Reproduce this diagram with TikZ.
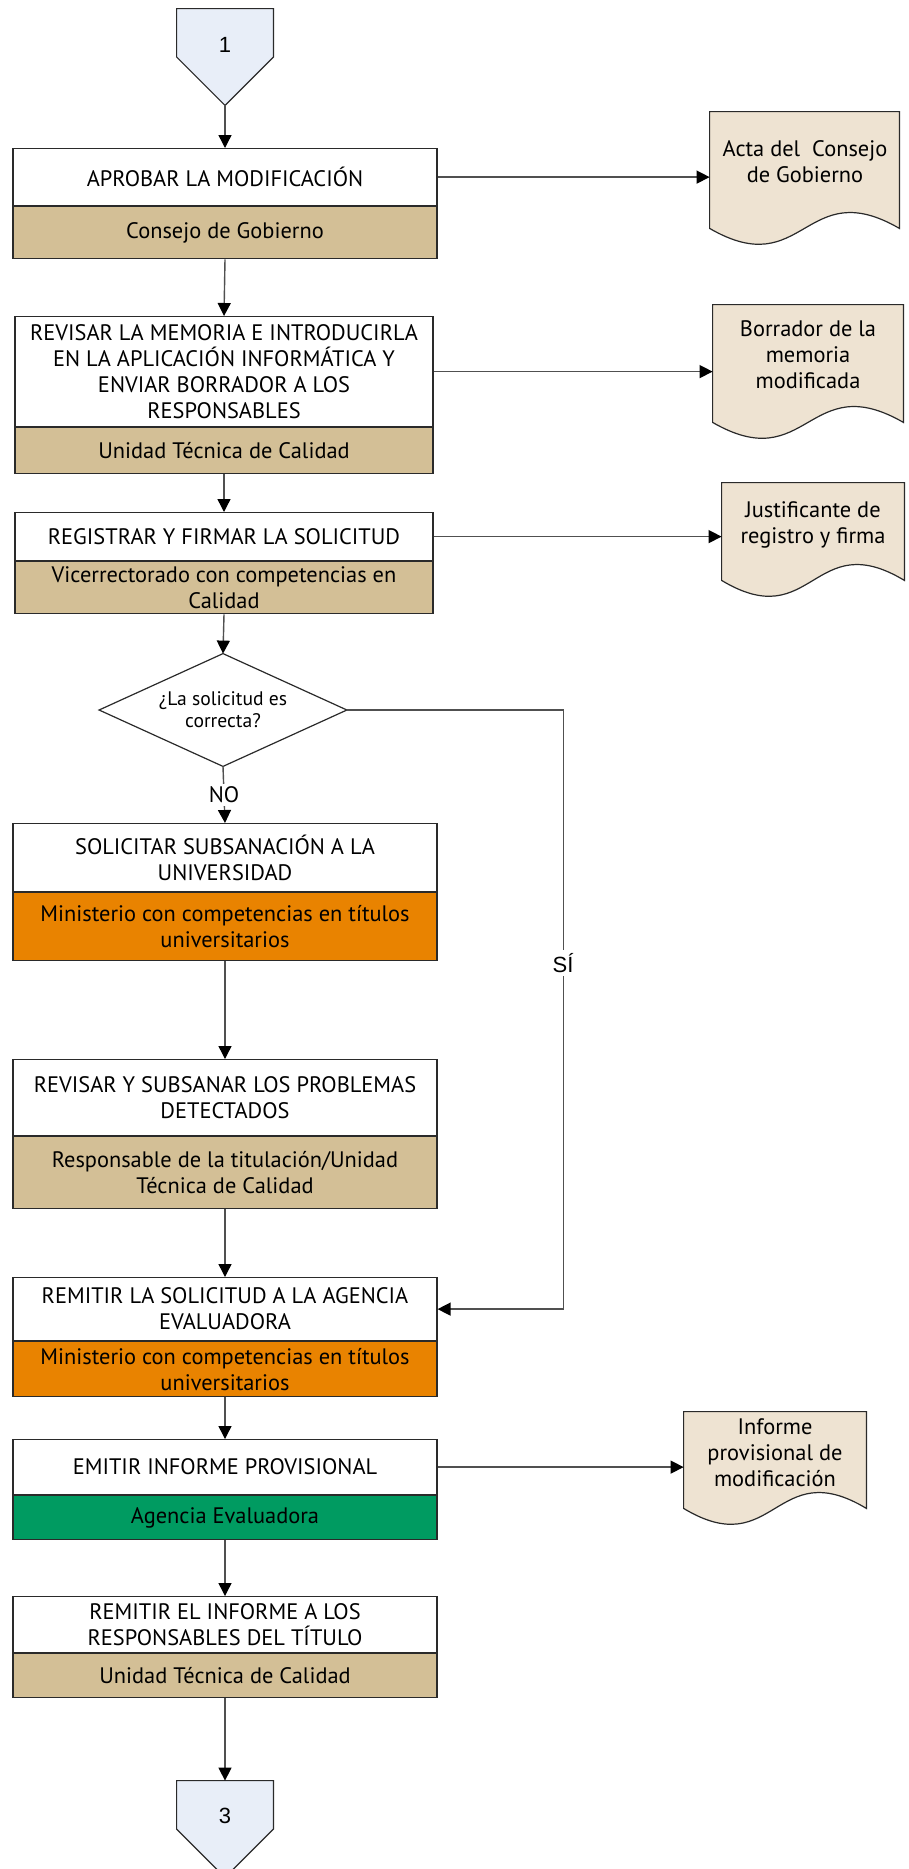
\documentclass[tikz,border=0pt]{standalone}
\usepackage{fontspec}
\setmainfont{PT Sans}
\newfontfamily\arialf{Liberation Sans}
\usetikzlibrary{arrows.meta,calc}
\definecolor{tanc}{HTML}{D3BF96}
\definecolor{orangec}{HTML}{E98300}
\definecolor{greenc}{HTML}{009B61}
\definecolor{docfill}{HTML}{EEE3D2}
\definecolor{pentfill}{HTML}{E8EEF8}
\definecolor{linegray}{HTML}{505050}
\definecolor{boxline}{HTML}{2A2A2A}
\newcommand\pxu{0.5pt}
\newcommand\docshape[1]{%
  \filldraw[docstyle] (#1.north west) -- (#1.north east) -- (#1.south east)
    .. controls ($(#1.south)+(0,-55)$) and ($(#1.south)+(0,55)$) .. (#1.south west) -- cycle;}
\begin{document}
\begin{tikzpicture}[x=0.5pt,y=-0.5pt,
  every node/.style={font=\fontsize{11.2pt}{13pt}\selectfont, align=center, text=black},
  boxtop/.style={draw=boxline, fill=white, line width=0.6pt, anchor=north, inner sep=0pt},
  boxbot/.style={draw=boxline, line width=0.6pt, anchor=north, inner sep=0pt},
  docbox/.style={inner sep=0pt},
  docstyle/.style={draw=boxline, fill=docfill, line width=0.6pt},
  pentstyle/.style={draw=boxline, fill=pentfill, line width=0.6pt},
  conn/.style={draw=linegray, line width=0.7pt, -{Triangle[length=6.5pt,width=6.5pt,color=black]}},
  arialtext/.style={font=\arialf\fontsize{11pt}{13pt}\selectfont}
]
\useasboundingbox (0,0) rectangle (909,1869);
\fill[white] (0,0) rectangle (909,1869);

% off-page connector 1
\node[inner sep=0pt, minimum width=96*\pxu, minimum height=96*\pxu] (p1) at (225,57) {};
\filldraw[pentstyle] (p1.north west) -- (p1.north east) -- (p1.east) -- (p1.south) -- (p1.west) -- cycle;
\node[arialtext] (p1t) at (225,45) {1};

% box 1
\node[boxtop, minimum width=424*\pxu, minimum height=57*\pxu] (b1t) at (225,148) {APROBAR LA MODIFICACIÓN};
\node[boxbot, fill=tanc, minimum width=424*\pxu, minimum height=52*\pxu] (b1b) at (b1t.south) {Consejo de Gobierno};

% box 2
\node[boxtop, minimum width=418*\pxu, minimum height=110*\pxu] (b2t) at (224,316) {REVISAR LA MEMORIA E INTRODUCIRLA\\EN LA APLICACIÓN INFORMÁTICA Y\\ENVIAR BORRADOR A LOS\\RESPONSABLES};
\node[boxbot, fill=tanc, minimum width=418*\pxu, minimum height=46*\pxu] (b2b) at (b2t.south) {Unidad Técnica de Calidad};

% box 3
\node[boxtop, minimum width=418*\pxu, minimum height=48*\pxu] (b3t) at (224,512) {REGISTRAR Y FIRMAR LA SOLICITUD};
\node[boxbot, fill=tanc, minimum width=418*\pxu, minimum height=52*\pxu] (b3b) at (b3t.south) {Vicerrectorado con competencias en\\Calidad};

% decision
\node[inner sep=0pt, minimum width=247*\pxu, minimum height=112*\pxu, font=\fontsize{9.8pt}{11pt}\selectfont] (dia) at (223,710) {¿La solicitud es\\correcta?};
\draw[draw=boxline, line width=0.6pt] (dia.north) -- (dia.east) -- (dia.south) -- (dia.west) -- cycle;

% box 4
\node[boxtop, minimum width=424*\pxu, minimum height=68*\pxu] (b4t) at (225,823) {SOLICITAR SUBSANACIÓN A LA\\UNIVERSIDAD};
\node[boxbot, fill=orangec, minimum width=424*\pxu, minimum height=68*\pxu] (b4b) at (b4t.south) {Ministerio con competencias en títulos\\universitarios};

% box 5
\node[boxtop, minimum width=424*\pxu, minimum height=76*\pxu] (b5t) at (225,1059) {REVISAR Y SUBSANAR LOS PROBLEMAS\\DETECTADOS};
\node[boxbot, fill=tanc, minimum width=424*\pxu, minimum height=72*\pxu] (b5b) at (b5t.south) {Responsable de la titulación/Unidad\\Técnica de Calidad};

% box 6
\node[boxtop, minimum width=424*\pxu, minimum height=63*\pxu] (b6t) at (225,1277) {REMITIR LA SOLICITUD A LA AGENCIA\\EVALUADORA};
\node[boxbot, fill=orangec, minimum width=424*\pxu, minimum height=55*\pxu] (b6b) at (b6t.south) {Ministerio con competencias en títulos\\universitarios};

% box 7
\node[boxtop, minimum width=424*\pxu, minimum height=55*\pxu] (b7t) at (225,1439) {EMITIR INFORME PROVISIONAL};
\node[boxbot, fill=greenc, minimum width=424*\pxu, minimum height=44*\pxu] (b7b) at (b7t.south) {Agencia Evaluadora};

% box 8
\node[boxtop, minimum width=424*\pxu, minimum height=56*\pxu] (b8t) at (225,1596) {REMITIR EL INFORME A LOS\\RESPONSABLES DEL TÍTULO};
\node[boxbot, fill=tanc, minimum width=424*\pxu, minimum height=44*\pxu] (b8b) at (b8t.south) {Unidad Técnica de Calidad};

% off-page connector 3
\node[inner sep=0pt, minimum width=96*\pxu, minimum height=96*\pxu] (p3) at (225,1829) {};
\filldraw[pentstyle] (p3.north west) -- (p3.north east) -- (p3.east) -- (p3.south) -- (p3.west) -- cycle;
\node[arialtext] (p3t) at (225,1816) {3};

% documents
\node[docbox, minimum width=189*\pxu, minimum height=116*\pxu] (d1) at (804.5,170) {};
\docshape{d1}
\node (d1t) at (805,161.5) {Acta del\ \ Consejo\\de Gobierno};

\node[docbox, minimum width=190*\pxu, minimum height=117*\pxu] (d2) at (808,363.5) {};
\docshape{d2}
\node (d2t) at (808,355) {Borrador de la\\memoria\\modificada};

\node[docbox, minimum width=182*\pxu, minimum height=97*\pxu] (d3) at (813,531.5) {};
\docshape{d3}
\node (d3t) at (813,525) {Justificante de\\registro y firma};

\node[docbox, minimum width=182*\pxu, minimum height=96*\pxu] (d4) at (775,1460) {};
\docshape{d4}
\node (d4t) at (775,1452.5) {Informe\\provisional de\\modificación};

% vertical flow
\draw[conn] (p1.south) -- (b1t.north);
\draw[conn] (b1b.south) -- (b2t.north);
\draw[conn] (b2b.south) -- (b3t.north);
\draw[conn] (b3b.south) -- (dia.north);
\draw[conn] (dia.south) -- node[fill=white, inner sep=1.5pt] (lblno) {NO} (b4t.north);
\draw[conn] (b4b.south) -- (b5t.north);
\draw[conn] (b5b.south) -- (b6t.north);
\draw[conn] (b6b.south) -- (b7t.north);
\draw[conn] (b7b.south) -- (b8t.north);
\draw[conn] (b8b.south) -- (p3.north);

% yes branch
\coordinate (sicorner) at ($(b6t.east)+(126,0)$);
\draw[conn] (dia.east) -| (sicorner) -- (b6t.east);
\node[fill=white, inner sep=1.5pt, arialtext] (lblsi) at (563,963) {SÍ};

% outputs
\draw[conn] (b1t.east) -- (b1t.east -| d1.west);
\draw[conn] (b2t.east) -- (b2t.east -| d2.west);
\draw[conn] (b3t.east) -- (b3t.east -| d3.west);
\draw[conn] (b7t.east) -- (b7t.east -| d4.west);
\end{tikzpicture}
\end{document}
